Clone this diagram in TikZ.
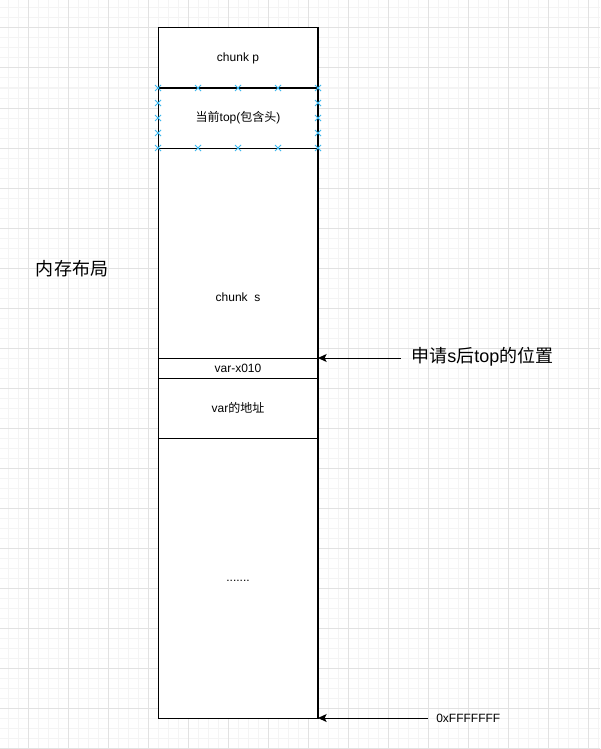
\documentclass[tikz,border=0pt]{standalone}
\usepackage{fontspec}
\setmainfont{Liberation Sans}
\newfontfamily\cjk{Noto Sans CJK SC}
\usepackage{xcolor}
\usetikzlibrary{arrows.meta}

\definecolor{gridminor}{HTML}{F4F4F4}
\definecolor{gridmajor}{HTML}{E2E2E2}
\definecolor{handle}{HTML}{3CB8F0}

\tikzset{
  cell/.style={draw=black,line width=0.75pt},
  celltext/.style={font=\fontsize{9}{11}\selectfont},
  bigtext/.style={font=\fontsize{13.5}{16}\selectfont},
  pointer/.style={line width=0.75pt,-{Stealth[length=6.5pt,width=6pt,inset=1.5pt]}},
}

\begin{document}
\begin{tikzpicture}[x=0.75pt,y=-0.75pt]
  \useasboundingbox (0,0) rectangle (600,749);
  \fill[white] (0,0) rectangle (600,749);

  % background grid
  \foreach \g in {8,18,...,598} {
    \draw[gridminor,line width=0.75pt] (\g,0) -- (\g,749);
  }
  \foreach \g in {8,18,...,748} {
    \draw[gridminor,line width=0.75pt] (0,\g) -- (600,\g);
  }
  \foreach \g in {28,68,...,598} {
    \draw[gridmajor,line width=0.75pt] (\g,0) -- (\g,749);
  }
  \foreach \g in {28,68,...,748} {
    \draw[gridmajor,line width=0.75pt] (0,\g) -- (600,\g);
  }

  % memory column
  \fill[white] (158,28) rectangle (318,718);
  \draw[cell] (158,28) rectangle (318,718);
  \foreach \cy in {88,148,358,378,438} {
    \draw[cell] (158,\cy) -- (318,\cy);
  }
  \draw[line width=1.6pt] (318,28) -- (318,718);

  \node[celltext] (chunkP) at (238,58)  {chunk p};
  \node[celltext] (curTop) at (238,118) {{\cjk 当前}top({\cjk 包含头})};
  \node[celltext] (chunkS) at (238,297) {chunk\ \ s};
  \node[celltext] (varX)   at (238,368) {var-x010};
  \node[celltext] (varAdr) at (238,408) {var{\cjk 的地址}};
  \node[celltext] (dots)   at (238,581) {.......};

  % selection handles
  \foreach \hx in {158,198,238,278,318} {
    \foreach \hy in {88,148} {
      \draw[handle,line width=0.75pt] (\hx-3,\hy-3) -- (\hx+3,\hy+3)
                                       (\hx-3,\hy+3) -- (\hx+3,\hy-3);
    }
  }
  \foreach \hx in {158,318} {
    \foreach \hy in {103,118,133} {
      \draw[handle,line width=0.75pt] (\hx-3,\hy-3) -- (\hx+3,\hy+3)
                                       (\hx-3,\hy+3) -- (\hx+3,\hy-3);
    }
  }

  % labels and pointers
  \node[bigtext] (layout) at (72,269) {\cjk 内存布局};

  \coordinate (topS) at (318,358);
  \node[bigtext,anchor=west,inner sep=0pt] (lblS) at (411,357)
    {{\cjk 申请}s{\cjk 后}top{\cjk 的位置}};
  \draw[pointer] (lblS.west) ++(-10,1) -- (topS);

  \coordinate (endMem) at (318,718);
  \node[celltext,anchor=west,inner sep=0pt] (lblEnd) at (436,718) {0xFFFFFFF};
  \draw[pointer] (lblEnd.west) ++(-8,0) -- (endMem);
\end{tikzpicture}
\end{document}
